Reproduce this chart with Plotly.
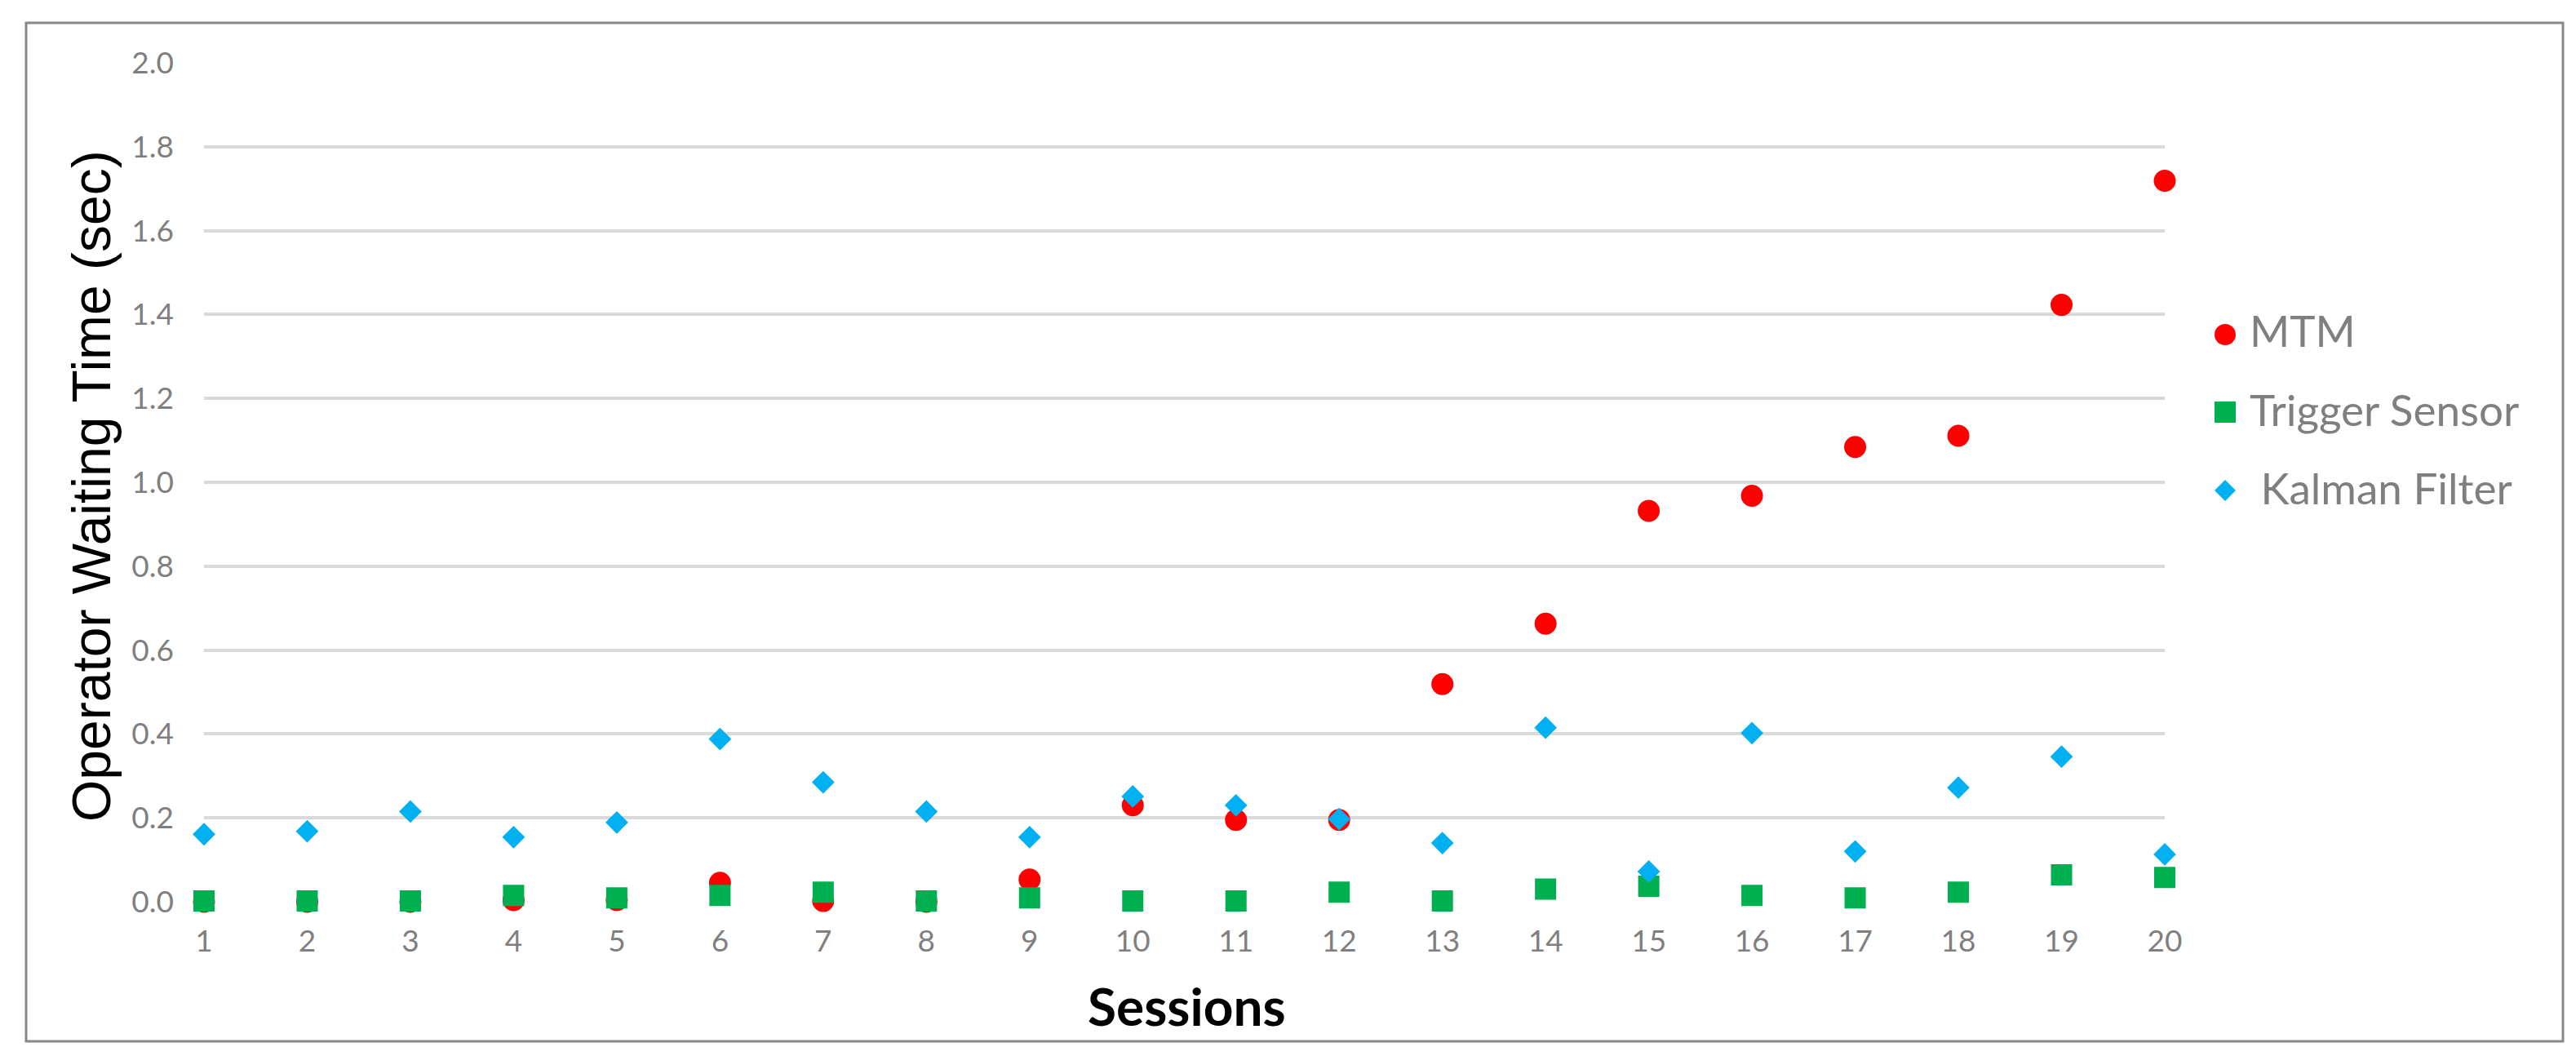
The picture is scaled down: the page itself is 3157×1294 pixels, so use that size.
import plotly.graph_objects as go

sessions = list(range(1, 21))
mtm = [0.0, 0.0, 0.0, 0.004, 0.004, 0.045, 0.002, 0.0, 0.053, 0.23,
       0.195, 0.195, 0.519, 0.663, 0.932, 0.968, 1.084, 1.111, 1.423, 1.719]
trigger = [0.002, 0.002, 0.002, 0.015, 0.009, 0.015, 0.023, 0.002, 0.009, 0.002,
           0.002, 0.023, 0.002, 0.030, 0.037, 0.015, 0.009, 0.023, 0.064, 0.058]
kalman = [0.161, 0.168, 0.215, 0.154, 0.189, 0.388, 0.285, 0.215, 0.154, 0.251,
          0.230, 0.197, 0.140, 0.415, 0.072, 0.402, 0.120, 0.272, 0.346, 0.113]
y_ticks = [0.0, 0.2, 0.4, 0.6, 0.8, 1.0, 1.2, 1.4, 1.6, 1.8, 2.0]
series_names = ["MTM", "Trigger Sensor", " Kalman Filter"]

W, H = 3157, 1294
L, R, T, B = 242, 2645, 69, 1097  # plot area pixels


def px(x):
    return (x - L) / (R - L)


def py(y):
    return (B - y) / (B - T)


RED, GREEN, BLUE = "#FF0000", "#00B050", "#00B0F0"

fig = go.Figure()
fig.add_trace(go.Scatter(x=sessions, y=mtm, mode="markers", name=series_names[0],
                         showlegend=False,
                         marker=dict(symbol="circle", size=22, color=RED,
                                     line=dict(color=RED, width=5)),
                         cliponaxis=False))
fig.add_trace(go.Scatter(x=sessions, y=trigger, mode="markers", name=series_names[1],
                         showlegend=False,
                         marker=dict(symbol="square", size=21, color=GREEN,
                                     line=dict(color=GREEN, width=5)),
                         cliponaxis=False))
fig.add_trace(go.Scatter(x=sessions, y=kalman, mode="markers", name=series_names[2],
                         showlegend=False,
                         marker=dict(symbol="diamond", size=17, color=BLUE,
                                     line=dict(color=BLUE, width=4)),
                         cliponaxis=False))

# legend entries (symbols drawn larger as shapes below)
for i, nm in enumerate(series_names):
    fig.add_trace(go.Scatter(x=[None], y=[None], mode="markers", name=nm,
                             legendgroup=f"g{i}",
                             marker=dict(color="rgba(0,0,0,0)", size=10)))

# legend symbol shapes
SX = 2719
rows = [402, 497, 593]
hw = 13
dx, dy = hw / (R - L), hw / (B - T)
legend_shapes = [
    dict(type="circle", xref="paper", yref="paper",
         x0=px(SX) - dx, x1=px(SX) + dx, y0=py(rows[0]) - dy, y1=py(rows[0]) + dy,
         fillcolor=RED, line=dict(width=0)),
    dict(type="rect", xref="paper", yref="paper",
         x0=px(SX) - dx, x1=px(SX) + dx, y0=py(rows[1]) - dy, y1=py(rows[1]) + dy,
         fillcolor=GREEN, line=dict(width=0)),
    dict(type="path", xref="paper", yref="paper",
         path=(f"M {px(SX) - dx},{py(rows[2])} L {px(SX)},{py(rows[2]) + dy} "
               f"L {px(SX) + dx},{py(rows[2])} L {px(SX)},{py(rows[2]) - dy} Z"),
         fillcolor=BLUE, line=dict(width=0)),
]

tick_font = dict(family="Lato, sans-serif", size=37, color="#7F7F7F")

fig.update_layout(
    width=W, height=H,
    margin=dict(l=L, r=W - R, t=T, b=H - B),
    paper_bgcolor="white", plot_bgcolor="white",
    showlegend=True,
    legend=dict(x=px(2709), y=py(355), xanchor="left", yanchor="top",
                font=dict(family="Lato, sans-serif", size=53, color="#7F7F7F"),
                traceorder="grouped", tracegroupgap=25, itemwidth=30,
                bgcolor="rgba(0,0,0,0)"),
    xaxis=dict(range=[1, 20], tickmode="array", tickvals=sessions,
               ticktext=[str(s) for s in sessions], showgrid=False,
               zeroline=False, showline=False, ticks="",
               tickfont=tick_font, ticklabelstandoff=23),
    yaxis=dict(range=[0, 2], tickmode="array", tickvals=y_ticks,
               ticktext=[f"{v:.1f}" for v in y_ticks], showgrid=True,
               gridcolor="#D9D9D9", gridwidth=4, zeroline=False, showline=False,
               ticks="", tickfont=tick_font, ticklabelstandoff=36),
    annotations=[
        dict(text="Operator Waiting Time (sec)", xref="paper", yref="paper",
             x=px(104), y=py(588), xanchor="center", yanchor="middle",
             textangle=-90, showarrow=False,
             font=dict(family="Liberation Sans, Arial, sans-serif", size=66, color="black")),
        dict(text="<b>Sessions</b>", xref="paper", yref="paper",
             x=px(1446), y=py(1224), xanchor="center", yanchor="middle",
             showarrow=False,
             font=dict(family="Lato, sans-serif", size=64, color="black")),
    ],
    shapes=[dict(type="rect", xref="paper", yref="paper",
                 x0=px(24), x1=px(3133), y0=py(1268), y1=py(20),
                 line=dict(color="#898989", width=3), fillcolor="rgba(0,0,0,0)",
                 layer="below")] + legend_shapes,
)

fig.write_html("out.html")
